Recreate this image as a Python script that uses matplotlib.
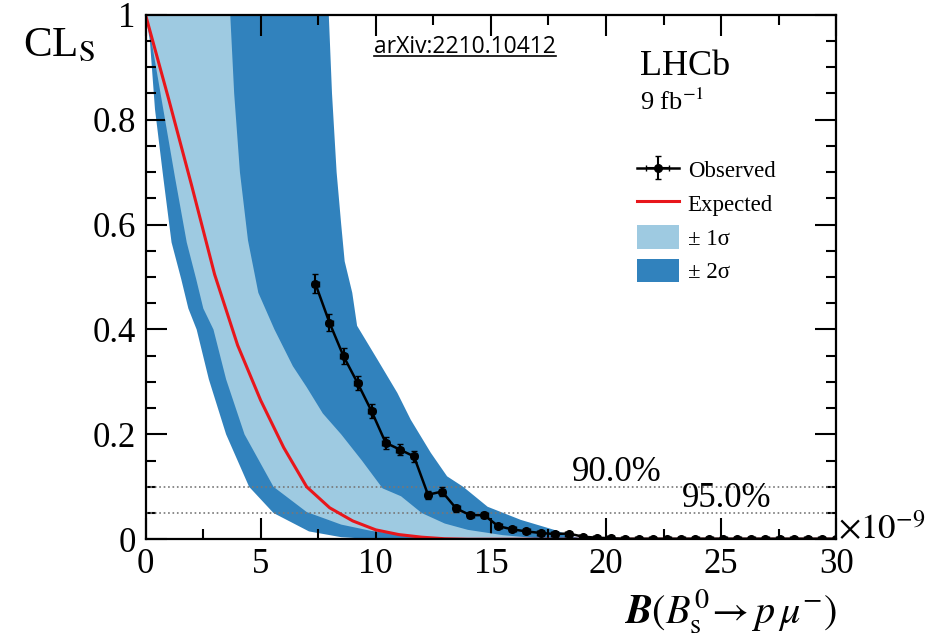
import matplotlib
matplotlib.use('Agg')
import matplotlib.pyplot as plt
from matplotlib.patches import Patch
from matplotlib.lines import Line2D
from matplotlib.ticker import MultipleLocator, FormatStrFormatter

plt.rcParams['font.family'] = ['Liberation Serif', 'DejaVu Serif']
plt.rcParams['mathtext.fontset'] = 'stix'

# observed CLs scan points
obs_x = [7.38, 7.99, 8.60, 9.21, 9.82, 10.43, 11.05, 11.66, 12.27, 12.88,
         13.49, 14.10, 14.71, 15.32, 15.93, 16.54, 17.16, 17.77, 18.38, 18.99,
         19.60, 20.21, 20.82, 21.43, 22.04, 22.66, 23.27, 23.88, 24.49, 25.10,
         25.71, 26.32, 26.93, 27.54, 28.16, 28.77, 29.38, 30.0]
obs_y = [0.487, 0.413, 0.349, 0.298, 0.244, 0.184, 0.171, 0.158, 0.085, 0.091,
         0.059, 0.046, 0.046, 0.025, 0.019, 0.015, 0.012, 0.010, 0.011, 0.005,
         0.003, 0.002, 0.001, 0.001, 0.001, 0.001, 0.001, 0.001, 0.001, 0.001,
         0.001, 0.001, 0.001, 0.001, 0.001, 0.001, 0.001, 0.001]
obs_err = [0.018, 0.016, 0.015, 0.014, 0.013, 0.011, 0.011, 0.010, 0.008, 0.008,
           0.007, 0.006, 0.006, 0.004, 0.004, 0.003, 0.003, 0.002, 0.002, 0.002,
           0.002, 0.002, 0.002, 0.002, 0.002, 0.002, 0.002, 0.002, 0.002, 0.002,
           0.002, 0.002, 0.002, 0.002, 0.002, 0.002, 0.002, 0.002]

# expected median
exp_x = [0, 1, 2, 3, 4, 5, 6, 7, 8, 9, 10, 11, 12, 13, 14, 30]
exp_y = [1.0, 0.84, 0.675, 0.505, 0.37, 0.265, 0.175, 0.10, 0.06, 0.035,
         0.018, 0.009, 0.004, 0.001, 0.0, 0.0]

m2_x = [0, 0.19, 0.41, 0.77, 1.13, 1.55, 1.86, 2.22, 2.75, 3.5, 4.5, 5.56, 7.1, 8.5, 10.0]
m2_y = [1.0, 0.95, 0.82, 0.69, 0.566, 0.496, 0.44, 0.40, 0.305, 0.20, 0.10, 0.05, 0.015, 0.004, 0.0]
m1_x = [0, 0.26, 0.77, 1.28, 1.79, 2.2, 2.51, 2.95, 3.5, 4.3, 5.56, 7.0, 8.5, 9.8, 11.8, 14.0]
m1_y = [1.0, 0.95, 0.82, 0.69, 0.566, 0.496, 0.44, 0.40, 0.305, 0.20, 0.10, 0.052, 0.028, 0.016, 0.005, 0.0]
p1_x = [3.68, 3.85, 4.1, 4.45, 4.9, 5.6, 6.4, 7.0, 7.7, 8.5, 9.4, 10.3, 11.1, 12.0, 13.0, 14.0, 15.5, 17.0, 18.0]
p1_y = [1.0, 0.85, 0.70, 0.57, 0.47, 0.40, 0.33, 0.29, 0.24, 0.20, 0.15, 0.097, 0.082, 0.05, 0.03, 0.018, 0.008, 0.002, 0.0]
p2_x = [7.96, 8.1, 8.3, 8.5, 8.65, 8.98, 9.19, 10.07, 10.94, 11.52, 12.39, 13.1, 13.8, 14.86, 16.3, 17.75, 18.6, 19.2]
p2_y = [1.0, 0.85, 0.7, 0.6, 0.53, 0.47, 0.407, 0.343, 0.279, 0.228, 0.165, 0.12, 0.10, 0.062, 0.037, 0.018, 0.005, 0.0]

cl_levels = [0.10, 0.05]
cl_labels = ['90.0%', '95.0%']

light = '#9ecae1'
dark = '#3182bd'

fig = plt.figure(figsize=(9.27, 6.42), dpi=100)
ax = fig.add_axes([0.157, 0.160, 0.745, 0.817])

ax.fill(m2_x + p2_x[::-1], m2_y + p2_y[::-1], color=dark, lw=0, zorder=1)
ax.fill(m1_x + p1_x[::-1], m1_y + p1_y[::-1], color=light, lw=0, zorder=2)

for lev in cl_levels:
    ax.axhline(lev, color='#777777', ls=':', lw=1.2, zorder=3)

ax.plot(exp_x, exp_y, color='#e8161b', lw=2.2, zorder=4)
ax.errorbar(obs_x, obs_y, yerr=obs_err, xerr=0.15, fmt='o-', color='black',
            ms=5.5, lw=1.8, elinewidth=1.5, capsize=2, zorder=5)

ax.text(18.5, 0.112, cl_labels[0], fontsize=25, zorder=6)
ax.text(23.3, 0.062, cl_labels[1], fontsize=25, zorder=6)

ax.set_xlim(0, 30)
ax.set_ylim(0, 1)
ax.xaxis.set_major_locator(MultipleLocator(5))
ax.xaxis.set_minor_locator(MultipleLocator(2.5))
ax.yaxis.set_major_locator(MultipleLocator(0.2))
ax.yaxis.set_minor_locator(MultipleLocator(0.05))
ax.yaxis.set_major_formatter(FormatStrFormatter('%g'))
ax.tick_params(which='both', direction='in', top=True, right=True, width=1.5,
               labelsize=25)
ax.tick_params(which='major', length=15)
ax.tick_params(which='minor', length=7)
ax.tick_params(axis='x', pad=6)
ax.tick_params(axis='y', pad=7)
for sp in ax.spines.values():
    sp.set_linewidth(1.6)
    sp.set_zorder(10)

ax.text(1.003, 0.0, r'$\times10^{-9}$', transform=ax.transAxes, fontsize=25,
        va='baseline', ha='left')

fig.text(0.025, 0.912, r'CL$_{\rm S}$', fontsize=31)
fig.text(0.903, 0.030, r'$\boldsymbol{B}(B^{0}_{\rm s}\!\rightarrow p\,\mu^{-})$',
         fontsize=29, ha='right', va='baseline')

ax.text(0.716, 0.886, 'LHCb', transform=ax.transAxes, fontsize=26)
ax.text(0.716, 0.819, r'9 fb$^{-1}$', transform=ax.transAxes, fontsize=19)

arx = ax.text(0.463, 0.939, 'arXiv:2210.10412', transform=ax.transAxes,
              fontsize=16.5, family='Open Sans', ha='center', va='center')

obs_h = ax.containers[0]
handles = [obs_h,
           Line2D([], [], color='#e8161b', lw=2.2),
           Patch(color=light, lw=0),
           Patch(color=dark, lw=0)]
labels = ['Observed', 'Expected', '± 1σ', '± 2σ']
ax.legend(handles, labels, loc='upper left', bbox_to_anchor=(0.712, 0.727),
          frameon=False, fontsize=16.5, borderpad=0, borderaxespad=0,
          handlelength=1.8, handleheight=1.2, labelspacing=0.4,
          handletextpad=0.4)

# underline the arXiv reference
fig.canvas.draw()
bb = arx.get_window_extent().transformed(fig.transFigure.inverted())
fig.add_artist(Line2D([bb.x0, bb.x1], [bb.y0 + 0.004, bb.y0 + 0.004],
                      color='black', lw=1.2, transform=fig.transFigure))

fig.savefig('out.png', dpi=100)
